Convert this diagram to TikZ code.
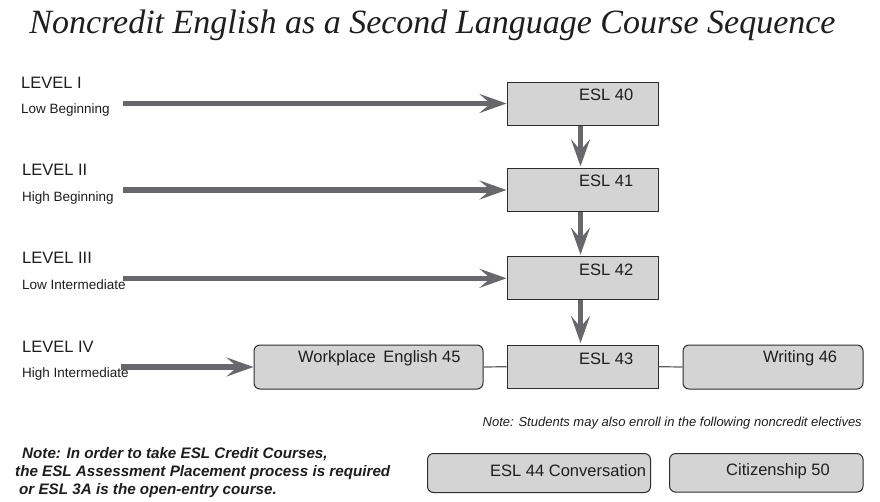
\documentclass[tikz,border=0pt]{standalone}
\usepackage{fontspec}
\setmainfont{Liberation Sans}
\newfontfamily\titlefont{Liberation Serif}
\usetikzlibrary{arrows.meta}
\definecolor{boxfill}{RGB}{212,212,212}
\definecolor{boxline}{RGB}{45,45,45}
\definecolor{arrowgray}{RGB}{104,104,108}
\definecolor{linkgray}{RGB}{95,95,95}
\definecolor{txt}{RGB}{30,30,30}
\begin{document}
\begin{tikzpicture}[x=1pt,y=-1pt,
  sqbox/.style={draw=boxline, fill=boxfill, line width=1pt, rectangle, inner sep=0pt},
  rdbox/.style={sqbox, rounded corners=6pt},
  harrow/.style={draw=arrowgray, line width=5.5pt, -{Stealth[length=27pt, width=19pt, inset=11pt]}},
  varrow/.style={harrow, shorten >=1.5pt},
  link/.style={draw=linkgray, line width=1.2pt},
  lbl/.style={inner sep=0pt, text=txt, font=\fontsize{16.5}{19}\selectfont},
  sublbl/.style={inner sep=0pt, text=txt, font=\fontsize{13.5}{16}\selectfont},
  notelbl/.style={inner sep=0pt, text=txt, font=\fontsize{13}{15}\selectfont\itshape},
  boldnote/.style={inner sep=0pt, text=txt, font=\fontsize{15.2}{18}\selectfont\bfseries\itshape}
]
\fill[white] (0,0) rectangle (880,501);
\useasboundingbox (0,0) rectangle (880,501);

% title
\node[inner sep=0pt, text=txt, anchor=base] (title) at (432.5,33)
  {\titlefont\itshape\fontsize{34}{40}\selectfont Noncredit English as a Second Language Course Sequence};

% boxes
\node[sqbox, minimum width=151pt, minimum height=43pt] (e40) at (582.5,103.5) {};
\node[sqbox, minimum width=151pt, minimum height=43.4pt] (e41) at (582.5,190) {};
\node[sqbox, minimum width=151pt, minimum height=43.3pt] (e42) at (582.5,278.3) {};
\node[sqbox, minimum width=151pt, minimum height=43.3pt] (e43) at (582.5,366.7) {};
\node[rdbox, minimum width=229pt, minimum height=44pt] (wp) at (368.5,367) {};
\node[rdbox, minimum width=180pt, minimum height=44pt] (wr) at (773,367) {};
\node[rdbox, minimum width=223pt, minimum height=39pt] (e44) at (539,473) {};
\node[rdbox, minimum width=193.5pt, minimum height=38.5pt] (cz) at (766.3,472.8) {};

% box texts
\node[lbl, anchor=base west] (t40) at (579,100) {ESL 40};
\node[lbl, anchor=base west] (t41) at (579,186) {ESL 41};
\node[lbl, anchor=base west] (t42) at (579,275) {ESL 42};
\node[lbl, anchor=base west] (t43) at (579,364) {ESL 43};
\node[lbl, anchor=base west] (twp) at (298,362.3) {Workplace\hspace{3pt} English 45};
\node[lbl, anchor=base west] (twr) at (763,362.3) {Writing 46};
\node[lbl, anchor=base west] (t44) at (490,476) {ESL 44 Conversation};
\node[lbl, anchor=base west] (tcz) at (726,475) {Citizenship 50};

% level labels
\node[lbl, anchor=base west] (l1) at (21,88) {LEVEL I};
\node[sublbl, anchor=base west] (l1s) at (21,113) {Low Beginning};
\node[lbl, anchor=base west] (l2) at (22,175) {LEVEL II};
\node[sublbl, anchor=base west] (l2s) at (22,201) {High Beginning};
\node[lbl, anchor=base west] (l3) at (22,263) {LEVEL III};
\node[sublbl, anchor=base west] (l3s) at (22,289) {Low Intermediate};
\node[lbl, anchor=base west] (l4) at (22,352) {LEVEL IV};
\node[sublbl, anchor=base west] (l4s) at (22,377) {High Intermediate};

% arrow starts
\coordinate (s1) at (123,103.5);
\coordinate (s2) at (123,190);
\coordinate (s3) at (123,278.3);
\coordinate (s4) at (121,367);

% horizontal arrows
\draw[harrow] (s1) -- (e40.west);
\draw[harrow] (s2) -- (e41.west);
\draw[harrow] (s3) -- (e42.west);
\draw[harrow] (s4) -- (wp.west);

% vertical arrows
\draw[varrow] ([xshift=-2pt]e40.south) -- ([xshift=-2pt]e41.north);
\draw[varrow] ([xshift=-2pt]e41.south) -- ([xshift=-2pt]e42.north);
\draw[varrow] ([xshift=-2pt]e42.south) -- ([xshift=-2pt]e43.north);

% links
\draw[link] (wp.east) -- (e43.west);
\draw[link] (e43.east) -- (wr.west);

% notes
\node[notelbl, anchor=base east] (n1) at (862,426) {Note: Students may also enroll in the following noncredit electives};
\node[boldnote, anchor=base west] (b1) at (22,458) {Note: In order to take ESL Credit Courses,};
\node[boldnote, anchor=base west] (b2) at (15,476) {the ESL Assessment Placement process is required};
\node[boldnote, anchor=base west] (b3) at (19,494) {or ESL 3A is the open-entry course.};
\end{tikzpicture}
\end{document}
